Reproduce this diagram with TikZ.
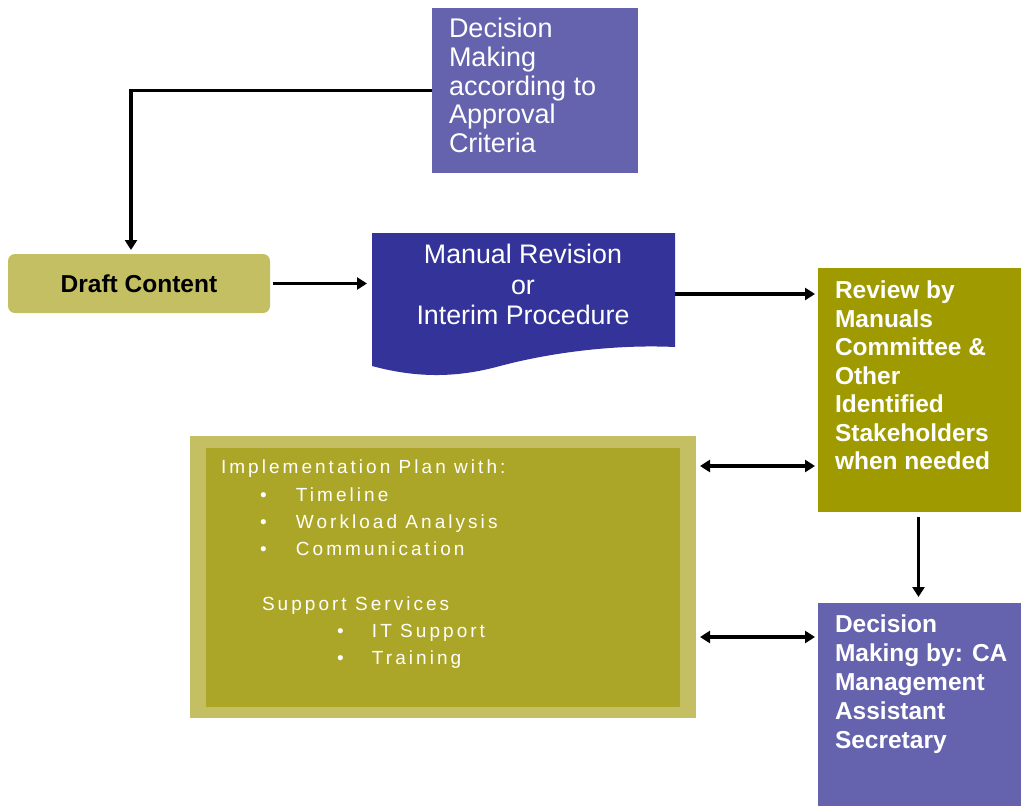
\documentclass[tikz,border=0pt]{standalone}
\usepackage{fontspec}
\setmainfont{Liberation Sans}
\newfontfamily\spacedfont[LetterSpace=16]{Liberation Sans}
\usetikzlibrary{arrows.meta}
\definecolor{dmpurple}{HTML}{6562AE}
\definecolor{mrblue}{HTML}{333399}
\definecolor{rvolive}{HTML}{9E9A00}
\definecolor{lightolive}{HTML}{C4BF62}
\definecolor{midolive}{HTML}{ACA628}
\begin{document}
\begin{tikzpicture}[x=1pt,y=-1pt,
  box/.style={draw=none,inner sep=0pt,outer sep=0pt},
  txt/.style={inner sep=0pt,outer sep=0pt,align=left,text=white},
  conn/.style={line width=3.5pt,-{Triangle[length=10pt,width=12pt]}},
  dconn/.style={line width=3.5pt,{Triangle[length=10pt,width=12pt]}-{Triangle[length=10pt,width=12pt]}}]
\useasboundingbox (0,0) rectangle (1021,806);

% top decision box
\node[box,fill=dmpurple,minimum width=206pt,minimum height=165pt] (dm1) at (535,90.5) {};
\node[txt,anchor=north west,font=\fontsize{27}{28.75}\selectfont] (dm1t) at (449,18)
  {Decision\\Making\\according to\\Approval\\Criteria};

% draft content
\node[box,fill=lightolive,rounded corners=7pt,minimum width=262pt,minimum height=59pt,
  font=\bfseries\fontsize{24.5}{30}\selectfont] (draft) at (139,283.5) {Draft Content};

% manual revision (document shape)
\fill[mrblue] (372,233) -- (675,233) -- (675,347)
  .. controls (610,344) and (545,354) .. (500,366)
  .. controls (460,377) and (420,379) .. (372,366) -- cycle;
\node[box,minimum width=303pt,minimum height=122pt] (mr) at (523.5,294) {};
\node[txt,align=center,font=\fontsize{26.8}{30.5}\selectfont] (mrt) at (523,284.5)
  {Manual Revision\\or\\Interim Procedure};

% review box
\node[box,fill=rvolive,minimum width=203pt,minimum height=244pt] (review) at (919.5,390) {};
\node[txt,anchor=north west,font=\bfseries\fontsize{24.5}{28.5}\selectfont] (reviewt) at (835,281)
  {Review by\\Manuals\\Committee \&\\Other\\Identified\\Stakeholders\\when needed};

% decision box 2
\node[box,fill=dmpurple,minimum width=203pt,minimum height=210pt] (dm2) at (919.5,708) {};
\node[txt,anchor=north west,font=\bfseries\fontsize{24.5}{29}\selectfont] (dm2t) at (835,615)
  {Decision\\Making by: CA\\Management\\Assistant\\Secretary};

% implementation plan
\node[box,fill=lightolive,minimum width=506pt,minimum height=282pt] (impout) at (443,577) {};
\node[box,fill=midolive,minimum width=474pt,minimum height=259pt] (impin) at (443,577.5) {};
\node[txt,anchor=north west,font=\spacedfont\fontsize{19}{27.3}\selectfont] (impt) at (221,460)
  {Implementation Plan with:\\
   \hspace*{39pt}\makebox[36pt][l]{•}Timeline\\
   \hspace*{39pt}\makebox[36pt][l]{•}Workload Analysis\\
   \hspace*{39pt}\makebox[36pt][l]{•}Communication\\[27.3pt]
   \hspace*{41pt}Support Services\\
   \hspace*{116pt}\makebox[35pt][l]{•}IT Support\\
   \hspace*{116pt}\makebox[35pt][l]{•}Training};

% connectors
\draw[conn,shorten >=4pt] (dm1.west) -| ([xshift=-8pt]draft.north);
\draw[conn,shorten <=3pt,shorten >=5pt] (draft.east) -- (draft.east -| mr.west);
\draw[conn,shorten >=3pt] (mr.east) -- (mr.east -| review.west);
\draw[conn,shorten <=5pt,shorten >=6pt] ([xshift=-1pt]review.south) -- ([xshift=-1pt]dm2.north);
\draw[dconn,shorten <=4pt,shorten >=3pt] ([yshift=111pt]impout.east) -- ([yshift=111pt]impout.east -| review.west);
\draw[dconn,shorten <=4pt,shorten >=3pt] ([yshift=-60pt]impout.east) -- ([yshift=-60pt]impout.east -| dm2.west);
\end{tikzpicture}
\end{document}
